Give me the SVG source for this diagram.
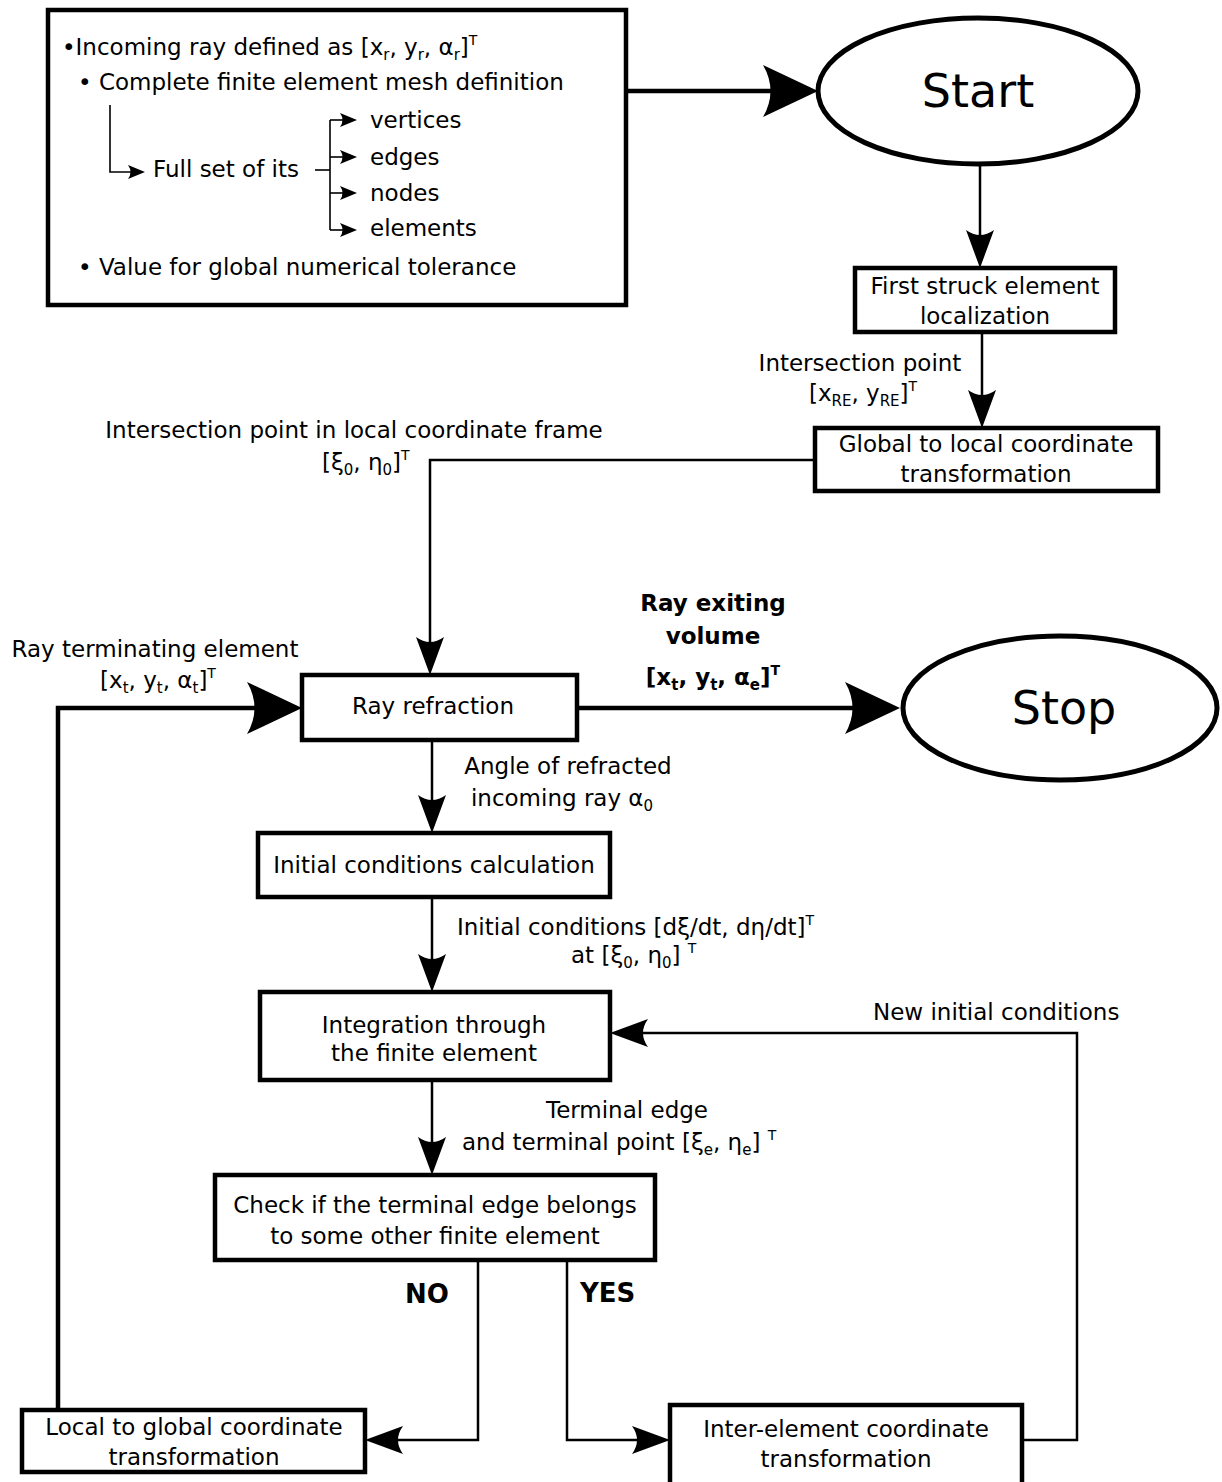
<svg xmlns="http://www.w3.org/2000/svg" width="1222" height="1482" viewBox="0 0 1222 1482">
  <style>
    .box { fill: #fff; stroke: #000; stroke-width: 4.5; }
    .oval { fill: #fff; stroke: #000; stroke-width: 5; }
    .t { font-family: "DejaVu Sans", Verdana, sans-serif; font-size: 23px; fill: #000; }
    .c { text-anchor: middle; }
    .b { font-weight: bold; }
    .big { font-size: 46px; }
    .sub { font-size: 15px; }
    .sup { font-size: 14px; }
    .thick { fill: none; stroke: #000; stroke-width: 4.5; }
    .thin { fill: none; stroke: #000; stroke-width: 2.5; }
    .hair { fill: none; stroke: #000; stroke-width: 1.6; }
  </style>
  <defs>
    <marker id="headBig" markerUnits="userSpaceOnUse" orient="auto" viewBox="-57 -28 59 56" markerWidth="59" markerHeight="56" refX="-20" refY="0">
      <path d="M0,0 L-55,-26 Q-40,0 -55,26 Z" fill="#000"/>
    </marker>
    <marker id="headThin" markerUnits="userSpaceOnUse" orient="auto" viewBox="-40 -16 42 32" markerWidth="42" markerHeight="32" refX="-12" refY="0">
      <path d="M0,0 L-38,-14 Q-28,0 -38,14 Z" fill="#000"/>
    </marker>
    <marker id="headSmall" markerUnits="userSpaceOnUse" orient="auto" viewBox="-18 -8 20 16" markerWidth="20" markerHeight="16" refX="-5" refY="0">
      <path d="M0,0 L-17,-7 Q-12,0 -17,7 Z" fill="#000"/>
    </marker>
  </defs>

  <rect width="1222" height="1482" fill="#fff"/>

  <!-- connectors -->
  <g id="connectors">
    <path class="thick" d="M626,91 H798" marker-end="url(#headBig)"/>
    <path class="thin" d="M980,164 V256" marker-end="url(#headThin)"/>
    <path class="thin" d="M982,332 V416" marker-end="url(#headThin)"/>
    <path class="thin" d="M815,460 H430 V663" marker-end="url(#headThin)"/>
    <path class="thick" d="M577,708 H880" marker-end="url(#headBig)"/>
    <path class="thick" d="M58,1410 V708 H282" marker-end="url(#headBig)"/>
    <path class="thin" d="M432,740 V821" marker-end="url(#headThin)"/>
    <path class="thin" d="M432,897 V980" marker-end="url(#headThin)"/>
    <path class="thin" d="M1022,1440 H1077 V1033 H622" marker-end="url(#headThin)"/>
    <path class="thin" d="M432,1080 V1163" marker-end="url(#headThin)"/>
    <path class="thin" d="M478,1260 V1440 H377" marker-end="url(#headThin)"/>
    <path class="thin" d="M567,1260 V1440 H658" marker-end="url(#headThin)"/>
  </g>

  <!-- input data block -->
  <g id="inputs">
    <rect class="box" x="48" y="10" width="578" height="295"/>
    <text class="t" x="62" y="55">•Incoming ray defined as [x<tspan class="sub" dy="5">r</tspan><tspan dy="-5">, y</tspan><tspan class="sub" dy="5">r</tspan><tspan dy="-5">, α</tspan><tspan class="sub" dy="5">r</tspan><tspan dy="-5">]</tspan><tspan class="sup" dy="-10">T</tspan></text>
    <text class="t" x="78" y="90">• Complete finite element mesh definition</text>
    <path class="hair" d="M110,105 V172 H140" marker-end="url(#headSmall)"/>
    <text class="t" x="153" y="177">Full set of its</text>
    <path class="hair" d="M315,170 H330"/>
    <path class="hair" d="M330,120 V230"/>
    <path class="hair" d="M330,120 H352" marker-end="url(#headSmall)"/>
    <path class="hair" d="M330,157 H352" marker-end="url(#headSmall)"/>
    <path class="hair" d="M330,193 H352" marker-end="url(#headSmall)"/>
    <path class="hair" d="M330,230 H352" marker-end="url(#headSmall)"/>
    <text class="t" x="370" y="128">vertices</text>
    <text class="t" x="370" y="165">edges</text>
    <text class="t" x="370" y="201">nodes</text>
    <text class="t" x="370" y="236">elements</text>
    <text class="t" x="78" y="275">• Value for global numerical tolerance</text>
  </g>

  <g id="start">
    <ellipse class="oval" cx="978" cy="91" rx="160" ry="73"/>
    <text class="t c big" x="978" y="107">Start</text>
  </g>

  <g id="first-struck">
    <rect class="box" x="855" y="268" width="260" height="64"/>
    <text class="t c" x="985" y="294">First struck element</text>
    <text class="t c" x="985" y="324">localization</text>
  </g>

  <g id="label-intersection">
    <text class="t c" x="860" y="371">Intersection point</text>
    <text class="t c" x="863" y="401">[x<tspan class="sub" dy="5">RE</tspan><tspan dy="-5">, y</tspan><tspan class="sub" dy="5">RE</tspan><tspan dy="-5">]</tspan><tspan class="sup" dy="-10">T</tspan></text>
  </g>

  <g id="global-to-local">
    <rect class="box" x="815" y="428" width="343" height="63"/>
    <text class="t c" x="986" y="452">Global to local coordinate</text>
    <text class="t c" x="986" y="482">transformation</text>
  </g>

  <g id="label-local-point">
    <text class="t c" x="354" y="438">Intersection point in local coordinate frame</text>
    <text class="t" x="322" y="470">[ξ<tspan class="sub" dy="5">0</tspan><tspan dy="-5">, η</tspan><tspan class="sub" dy="5">0</tspan><tspan dy="-5">]</tspan><tspan class="sup" dy="-10">T</tspan></text>
  </g>

  <g id="ray-refraction">
    <rect class="box" x="302" y="675" width="275" height="65"/>
    <text class="t c" x="433" y="714">Ray refraction</text>
  </g>

  <g id="label-exit">
    <text class="t c b" x="713" y="611">Ray exiting</text>
    <text class="t c b" x="713" y="644">volume</text>
    <text class="t c b" x="713" y="685">[x<tspan class="sub" dy="5">t</tspan><tspan dy="-5">, y</tspan><tspan class="sub" dy="5">t</tspan><tspan dy="-5">, α</tspan><tspan class="sub" dy="5">e</tspan><tspan dy="-5">]</tspan><tspan class="sup" dy="-10">T</tspan></text>
  </g>

  <g id="stop">
    <ellipse class="oval" cx="1060" cy="708" rx="157" ry="72"/>
    <text class="t c big" x="1064" y="724">Stop</text>
  </g>

  <g id="label-terminating">
    <text class="t c" x="155" y="657">Ray terminating element</text>
    <text class="t c" x="158" y="688">[x<tspan class="sub" dy="5">t</tspan><tspan dy="-5">, y</tspan><tspan class="sub" dy="5">t</tspan><tspan dy="-5">, α</tspan><tspan class="sub" dy="5">t</tspan><tspan dy="-5">]</tspan><tspan class="sup" dy="-10">T</tspan></text>
  </g>

  <g id="label-angle">
    <text class="t c" x="568" y="774">Angle of refracted</text>
    <text class="t c" x="562" y="806">incoming ray α<tspan class="sub" dy="5">0</tspan></text>
  </g>

  <g id="initial-conditions">
    <rect class="box" x="258" y="833" width="352" height="64"/>
    <text class="t c" x="434" y="873">Initial conditions calculation</text>
  </g>

  <g id="label-initial">
    <text class="t" x="457" y="935">Initial conditions [dξ/dt, dη/dt]<tspan class="sup" dy="-10">T</tspan></text>
    <text class="t" x="571" y="963">at [ξ<tspan class="sub" dy="5">0</tspan><tspan dy="-5">, η</tspan><tspan class="sub" dy="5">0</tspan><tspan dy="-5">] </tspan><tspan class="sup" dy="-10">T</tspan></text>
  </g>

  <g id="integration">
    <rect class="box" x="260" y="992" width="350" height="88"/>
    <text class="t c" x="434" y="1033">Integration through</text>
    <text class="t c" x="434" y="1061">the finite element</text>
  </g>

  <g id="label-new">
    <text class="t" x="873" y="1020">New initial conditions</text>
  </g>

  <g id="label-terminal">
    <text class="t c" x="627" y="1118">Terminal edge</text>
    <text class="t" x="462" y="1150">and terminal point [ξ<tspan class="sub" dy="5">e</tspan><tspan dy="-5">, η</tspan><tspan class="sub" dy="5">e</tspan><tspan dy="-5">] </tspan><tspan class="sup" dy="-10">T</tspan></text>
  </g>

  <g id="check">
    <rect class="box" x="215" y="1175" width="440" height="85"/>
    <text class="t c" x="435" y="1213">Check if the terminal edge belongs</text>
    <text class="t c" x="435" y="1244">to some other finite element</text>
  </g>

  <g id="label-no">
    <text class="t b" x="405" y="1303" style="font-size:26px">NO</text>
  </g>
  <g id="label-yes">
    <text class="t b" x="580" y="1302" style="font-size:26px">YES</text>
  </g>

  <g id="local-to-global">
    <rect class="box" x="22" y="1410" width="343" height="62"/>
    <text class="t c" x="194" y="1435">Local to global coordinate</text>
    <text class="t c" x="194" y="1465">transformation</text>
  </g>

  <g id="inter-element">
    <rect class="box" x="670" y="1405" width="352" height="90"/>
    <text class="t c" x="846" y="1437">Inter-element coordinate</text>
    <text class="t c" x="846" y="1467">transformation</text>
  </g>
</svg>
